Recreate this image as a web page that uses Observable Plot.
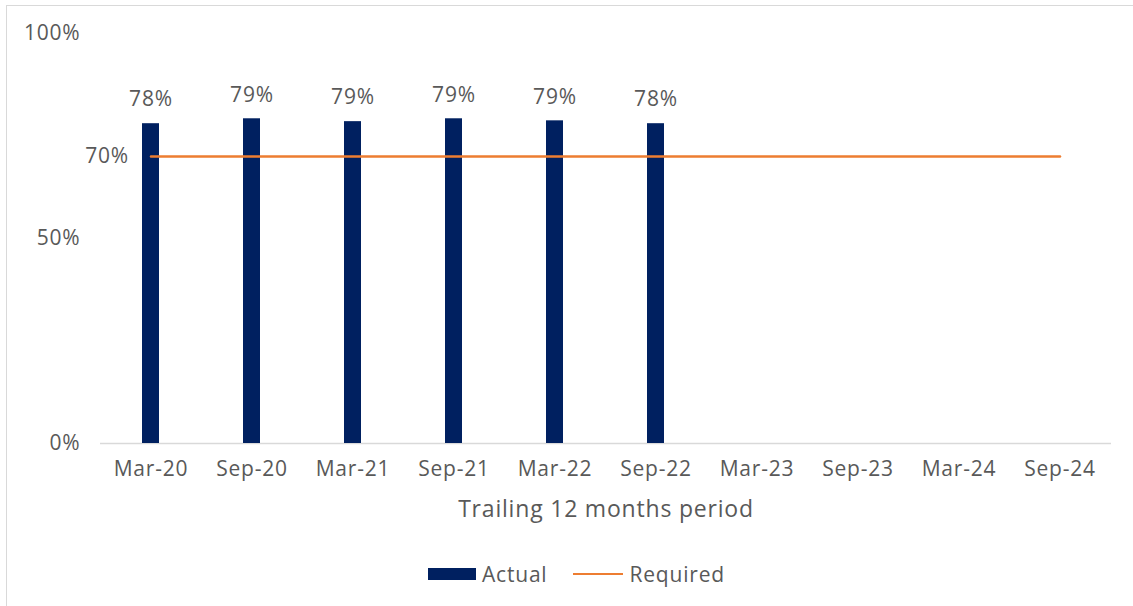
<!DOCTYPE html>
<html>
<head>
<meta charset="utf-8">
<script src="https://cdn.jsdelivr.net/npm/d3@7"></script>
<script src="https://cdn.jsdelivr.net/npm/@observablehq/plot@0.6"></script>
<style>
  html, body { margin: 0; padding: 0; background: #fff; overflow: hidden; }
  #page { position: relative; width: 1133px; height: 606px; font-family: "Open Sans", sans-serif; }
  #frame { position: absolute; left: 6px; top: 5px; width: 1200px; height: 700px;
           border-left: 1.5px solid #d9d9d9; border-top: 1.5px solid #d9d9d9; }
  #chart { position: absolute; left: 0; top: 0; }
  #legend { position: absolute; left: 428px; top: 560px; display: flex; align-items: center;
            font-size: 21px; color: #595959; letter-spacing: 0.8px; }
  .sw-bar { width: 48px; height: 12px; background: #002060; margin-right: 6px; }
  .sw-line { width: 50px; height: 2.5px; background: #ED7D31; margin-right: 6px; margin-left: 26px; }
</style>
</head>
<body>
<div id="page">
  <div id="frame"></div>
  <div id="chart"></div>
  <div id="legend">
    <div class="sw-bar"></div><span>Actual</span>
    <div class="sw-line"></div><span>Required</span>
  </div>
</div>
<script>
const categories = ["Mar-20", "Sep-20", "Mar-21", "Sep-21", "Mar-22", "Sep-22", "Mar-23", "Sep-23", "Mar-24", "Sep-24"];
const actualPeriods = ["Mar-20", "Sep-20", "Mar-21", "Sep-21", "Mar-22", "Sep-22"];
const actualValues = [0.780, 0.792, 0.785, 0.792, 0.787, 0.780];
const requiredValue = 0.70;
const yTicks = [0, 0.5, 1];
const axisTitle = "Trailing 12 months period";

const actual = actualPeriods.map((p, i) => ({period: p, value: actualValues[i]}));
const required = categories.map(c => ({period: c, value: requiredValue}));
const pct = d3.format(".0%");

const chart = Plot.plot({
  width: 1133,
  height: 540,
  marginLeft: 100,
  marginRight: 22,
  marginTop: 33,
  marginBottom: 97,
  style: {fontFamily: "'Open Sans', sans-serif", fontSize: "21px", color: "#595959", letterSpacing: "0.8px", background: "transparent"},
  x: {domain: categories, paddingInner: 0.83, paddingOuter: 0.415, label: null},
  y: {domain: [0, 1], label: null},
  marks: [
    Plot.ruleY([0], {stroke: "#d9d9d9", strokeWidth: 1.5}),
    Plot.barY(actual, {x: "period", y: "value", fill: "#002060"}),
    Plot.lineY(required, {x: "period", y: "value", stroke: "#ED7D31", strokeWidth: 2.5}),
    Plot.text(actual, {x: "period", y: "value", text: d => pct(d.value), dy: -24, fill: "#595959"}),
    Plot.text([required[0]], {x: "period", y: "value", text: d => pct(d.value), textAnchor: "end", dx: -22, fill: "#595959"}),
    Plot.axisY({ticks: yTicks, tickFormat: pct, tickSize: 0, tickPadding: 20, label: null}),
    Plot.axisX({tickSize: 0, tickPadding: 18, label: null}),
    Plot.text([axisTitle], {frameAnchor: "bottom", dy: 73, fontSize: 23, fill: "#595959"})
  ]
});
document.getElementById("chart").appendChild(chart);
</script>
</body>
</html>
